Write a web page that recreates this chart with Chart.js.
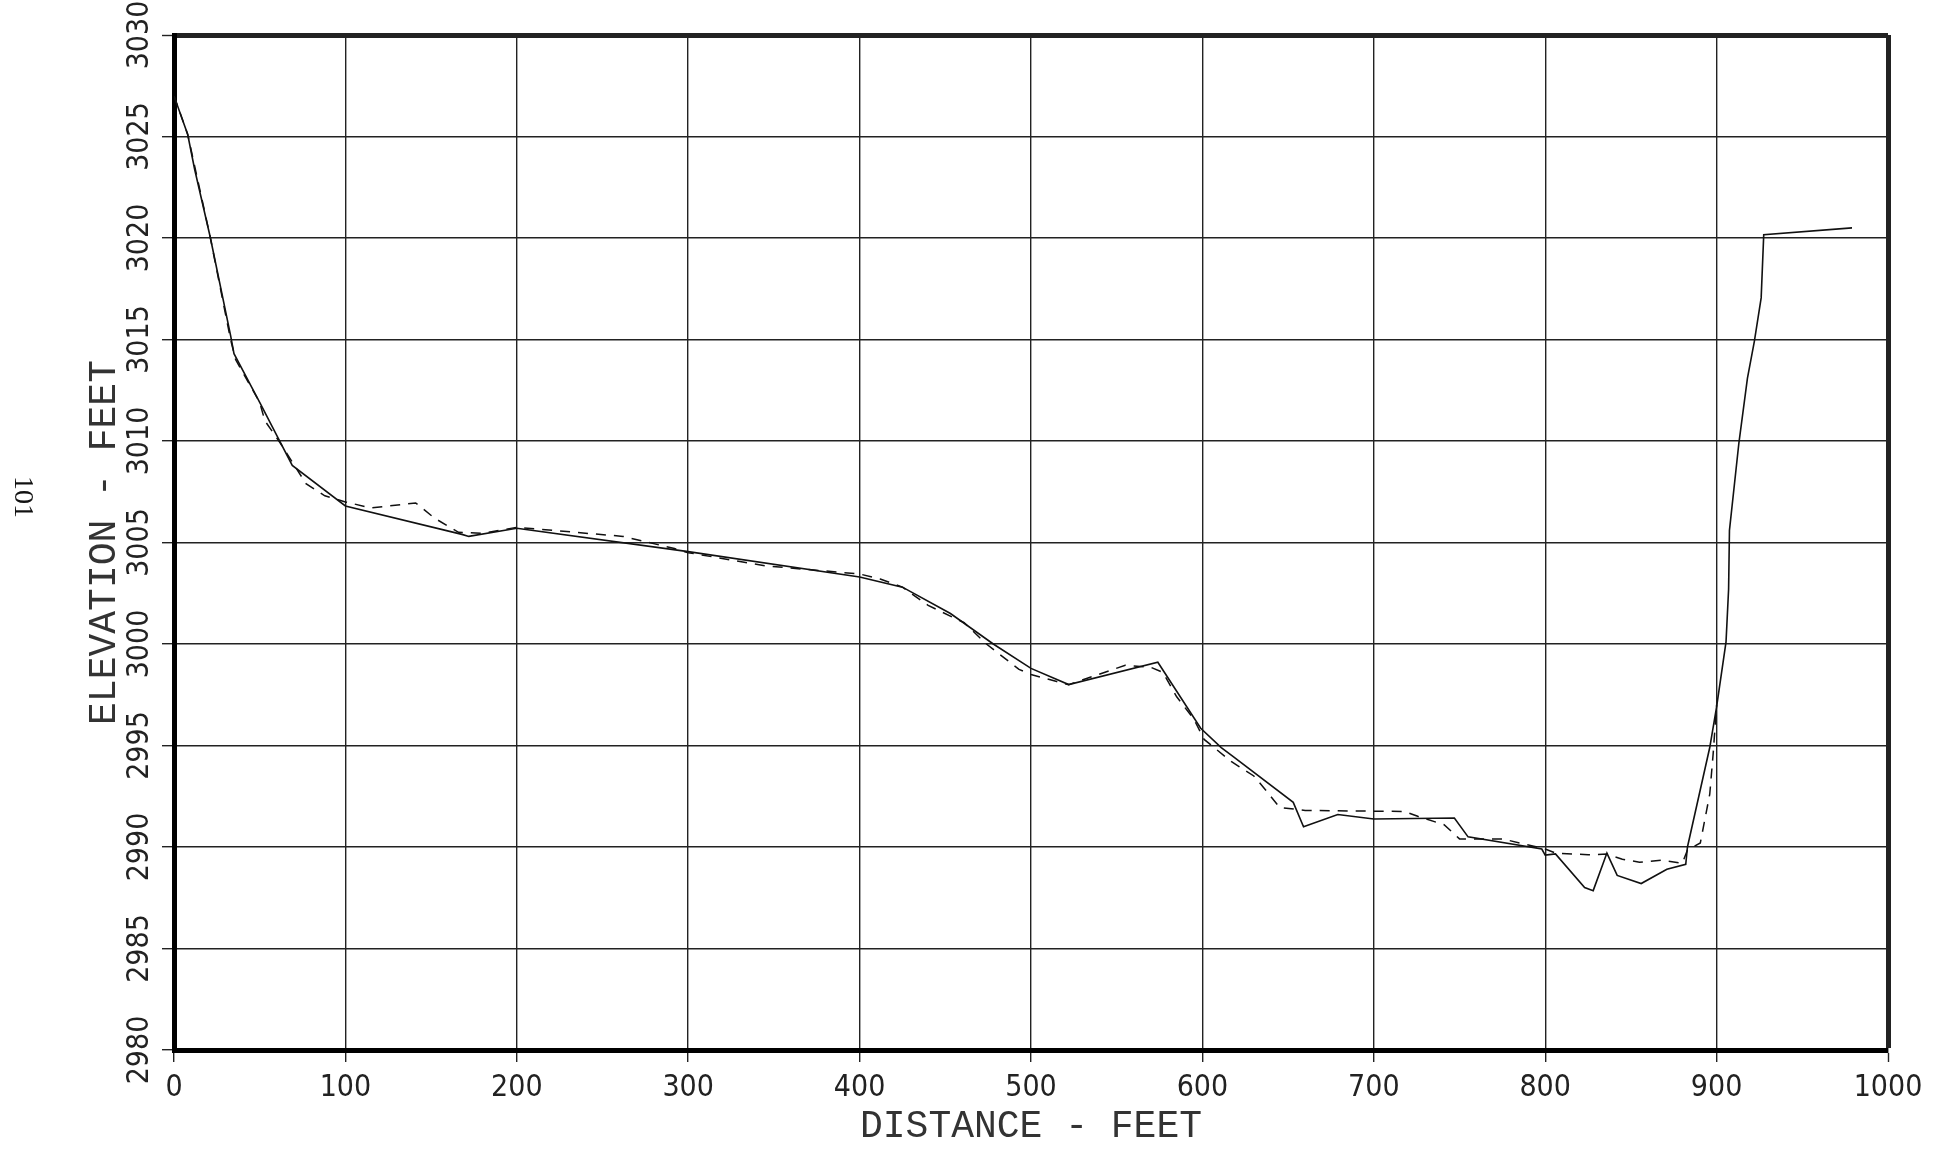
<!DOCTYPE html>
<html>
<head>
<meta charset="utf-8">
<script src="https://cdn.jsdelivr.net/npm/chart.js@4.4.1/dist/chart.umd.min.js"></script>
<style>
  html, body { margin: 0; padding: 0; background: #fff; }
  #wrap { width: 1940px; height: 1150px; }
</style>
</head>
<body>
<div id="wrap"><canvas id="profileChart" width="1940" height="1150"></canvas></div>
<script>
// Cross section profile, solid and dashed surveys

const solidDist = [0, 8, 12, 21, 33, 35, 50, 61, 69, 100, 168, 172, 200, 300, 400, 425, 453, 478, 500, 522, 574, 599, 611, 618, 653, 659, 679, 700, 747, 755, 798, 800, 806, 823, 828, 836, 842, 856, 871, 882, 883, 896, 900, 905.5, 907, 907.5, 913, 918, 922, 926, 927.5, 979];
const solidElev = [3027.0, 3025.1, 3023.4, 3020.1, 3015.2, 3014.3, 3011.9, 3010.1, 3008.8, 3006.8, 3005.4, 3005.3, 3005.7, 3004.55, 3003.3, 3002.8, 3001.5, 3000.0, 2998.8, 2998.0, 2999.1, 2995.85, 2994.9, 2994.45, 2992.2, 2991.0, 2991.6, 2991.38, 2991.43, 2990.5, 2989.9, 2989.6, 2989.66, 2988.0, 2987.85, 2989.7, 2988.6, 2988.2, 2988.9, 2989.15, 2990.0, 2994.9, 2996.9, 3000.1, 3002.7, 3005.6, 3009.9, 3013.1, 3014.9, 3017.05, 3020.16, 3020.5];

const dashDist = [0, 8, 21, 33, 36, 50, 53, 62, 77, 88, 100, 115, 141, 152, 166, 180, 200, 262, 292, 300, 345, 400, 412, 425, 440, 461, 474, 493, 500, 515, 522, 555, 570, 577, 585, 595, 601, 617, 630, 637, 645, 660, 718, 726, 741, 750, 775, 800, 806, 825, 836, 845, 855, 868, 880, 883, 890.5, 896, 898, 900];
const dashElev = [3027.0, 3025.1, 3020.1, 3015.0, 3014.0, 3011.9, 3011.0, 3009.9, 3007.9, 3007.3, 3007.0, 3006.7, 3006.95, 3006.2, 3005.5, 3005.45, 3005.75, 3005.3, 3004.7, 3004.5, 3003.85, 3003.45, 3003.2, 3002.8, 3001.9, 3001.05, 3000.0, 2998.75, 2998.5, 2998.15, 2998.0, 2998.95, 2998.85, 2998.6, 2997.4, 2996.3, 2995.3, 2994.2, 2993.5, 2992.8, 2991.95, 2991.8, 2991.75, 2991.5, 2991.1, 2990.4, 2990.4, 2989.9, 2989.7, 2989.62, 2989.65, 2989.4, 2989.25, 2989.35, 2989.2, 2989.85, 2990.2, 2992.6, 2994.6, 2997.0];

const xTicks = [0, 100, 200, 300, 400, 500, 600, 700, 800, 900, 1000];
const yTicks = [2980, 2985, 2990, 2995, 3000, 3005, 3010, 3015, 3020, 3025, 3030];

const solidData = solidDist.map((d, i) => ({x: d, y: solidElev[i]}));
const dashData = dashDist.map((d, i) => ({x: d, y: dashElev[i]}));

const tickFont = {family: '"Liberation Sans Narrow", "DejaVu Sans Condensed", "Liberation Mono", sans-serif', size: 30};
const titleFamily = '"Liberation Mono", "DejaVu Sans Mono", monospace';

// page number in the margin
const pageNumber = {
    id: 'pageNumber',
    afterDraw(chart) {
        const ctx = chart.ctx;
        ctx.save();
        ctx.translate(22, 497);
        ctx.rotate(Math.PI / 2);
        ctx.font = '28px "Liberation Serif", serif';
        ctx.fillStyle = '#111';
        ctx.textAlign = 'center';
        ctx.textBaseline = 'middle';
        ctx.fillText('101', 0, 0);
        ctx.restore();
    }
};

new Chart(document.getElementById('profileChart'), {
    type: 'line',
    data: {
        datasets: [{
            data: solidData,
            borderColor: '#111',
            borderWidth: 1.6,
            pointRadius: 0,
            fill: false,
            tension: 0
        }, {
            data: dashData,
            borderColor: '#111',
            borderWidth: 1.5,
            borderDash: [10, 8],
            pointRadius: 0,
            fill: false,
            tension: 0
        }]
    },
    options: {
        responsive: false,
        animation: false,
        layout: {
            padding: {top: 35, right: 52, left: 0, bottom: 0}
        },
        plugins: {
            legend: {display: false},
            tooltip: {enabled: false}
        },
        scales: {
            x: {
                type: 'linear',
                min: 0,
                max: 1000,
                afterBuildTicks: s => { s.ticks = xTicks.map(v => ({value: v})); },
                afterFit: s => { s.height = 100; },
                ticks: {
                    color: '#222',
                    font: tickFont,
                    padding: 8,
                    minRotation: 0,
                    maxRotation: 0,
                    callback: v => String(v)
                },
                grid: {
                    color: '#222',
                    lineWidth: c => (c.tick && c.tick.value === 1000) ? 5 : 1.4,
                    tickLength: 12,
                    tickWidth: 1.4,
                    tickColor: '#222'
                },
                border: {color: '#000', width: 5},
                title: {
                    display: true,
                    text: 'DISTANCE - FEET',
                    color: '#333',
                    font: {family: titleFamily, size: 38},
                    padding: {top: 0, bottom: 0}
                }
            },
            y: {
                min: 2980,
                max: 3030,
                afterBuildTicks: s => { s.ticks = yTicks.map(v => ({value: v})); },
                afterFit: s => { s.width = 174; },
                ticks: {
                    color: '#222',
                    font: tickFont,
                    minRotation: 90,
                    maxRotation: 90,
                    crossAlign: 'center',
                    padding: -13,
                    callback: v => String(v)
                },
                grid: {
                    color: '#222',
                    lineWidth: c => (c.tick && c.tick.value === 3030) ? 5 : 1.4,
                    tickLength: 12,
                    tickWidth: 1.4,
                    tickColor: '#222'
                },
                border: {color: '#000', width: 5},
                title: {
                    display: true,
                    text: 'ELEVATION - FEET',
                    color: '#333',
                    font: {family: titleFamily, size: 38},
                    padding: {top: 82, bottom: 0}
                }
            }
        }
    },
    plugins: [pageNumber]
});
</script>
</body>
</html>
